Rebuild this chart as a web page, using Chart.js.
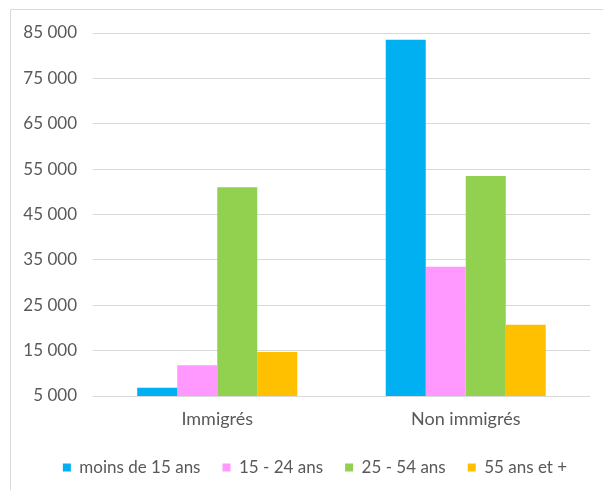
<!DOCTYPE html>
<html>
<head>
<meta charset="utf-8">
<script src="https://cdn.jsdelivr.net/npm/chart.js@4/dist/chart.umd.min.js"></script>
<style>
  html, body { margin: 0; padding: 0; background: #ffffff; }
  #wrap { width: 603px; height: 490px; position: relative; }
</style>
</head>
<body>
<div id="wrap"><canvas id="c" width="603" height="490"></canvas></div>
<script>
// Population par statut migratoire et tranche d'âge
const categories = ['Immigrés', 'Non immigrés'];
const seriesNames = ['moins de 15 ans', '15 - 24 ans', '25 - 54 ans', '55 ans et +'];
const moins15 = [6800, 83500];
const de15a24 = [11800, 33500];
const de25a54 = [51000, 53500];
const plus55 = [14700, 20700];
const yTicks = [5000, 15000, 25000, 35000, 45000, 55000, 65000, 75000, 85000];
const seriesColors = ['#00B0F0', '#FF99FF', '#92D050', '#FFC000'];

const seriesValues = [moins15, de15a24, de25a54, plus55];

// Light frame around the chart (open on the right and bottom edges)
const framePlugin = {
  id: 'frame',
  beforeDraw(chart) {
    const ctx = chart.ctx;
    ctx.save();
    ctx.fillStyle = '#ffffff';
    ctx.fillRect(0, 0, chart.width, chart.height);
    ctx.strokeStyle = '#d9d9d9';
    ctx.lineWidth = 1;
    ctx.beginPath();
    ctx.moveTo(10.5, chart.height + 2);
    ctx.lineTo(10.5, 9.5);
    ctx.lineTo(chart.width + 2, 9.5);
    ctx.stroke();
    ctx.restore();
  }
};

// Nudge the legend box: centred on the whole frame, slightly lower
const legendShift = {
  id: 'legendShift',
  afterLayout(chart) {
    const lg = chart.legend;
    if (!lg) return;
    lg.left += 10; lg.right += 10;
    lg.top += 7; lg.bottom += 7;
  }
};

// French thousands separator
const fmt = v => String(Math.round(v)).replace(/\B(?=(\d{3})+(?!\d))/g, ' ');

Chart.defaults.font.family = 'Lato, "Open Sans", sans-serif';
Chart.defaults.color = '#595959';

new Chart(document.getElementById('c'), {
  type: 'bar',
  data: {
    labels: categories,
    datasets: seriesNames.map((name, i) => ({
      label: name,
      data: seriesValues[i],
      backgroundColor: seriesColors[i],
      borderWidth: 0,
      barPercentage: 1.0,
      categoryPercentage: 0.644
    }))
  },
  options: {
    responsive: false,
    animation: false,
    devicePixelRatio: 1,
    layout: { padding: { left: 20, right: 13, top: 33, bottom: 11 } },
    plugins: {
      tooltip: { enabled: false },
      legend: {
        position: 'bottom',
        labels: {
          boxWidth: 8,
          boxHeight: 8,
          padding: 22,
          font: { size: 17 },
          color: '#595959'
        }
      }
    },
    scales: {
      x: {
        afterFit(scale) { scale.height = 34; },
        grid: { display: false, drawTicks: false },
        border: { display: false },
        ticks: { padding: 12, font: { size: 18 }, color: '#595959' }
      },
      y: {
        min: 5000,
        max: 85000,
        afterBuildTicks(scale) {
          scale.ticks = yTicks.map(v => ({ value: v }));
        },
        afterFit(scale) { scale.width = 73; },
        grid: { color: '#d9d9d9', lineWidth: 1, drawTicks: false },
        border: { display: false },
        ticks: {
          padding: 16,
          font: { size: 17 },
          color: '#595959',
          callback: v => fmt(v)
        }
      }
    }
  },
  plugins: [framePlugin, legendShift]
});
</script>
</body>
</html>
